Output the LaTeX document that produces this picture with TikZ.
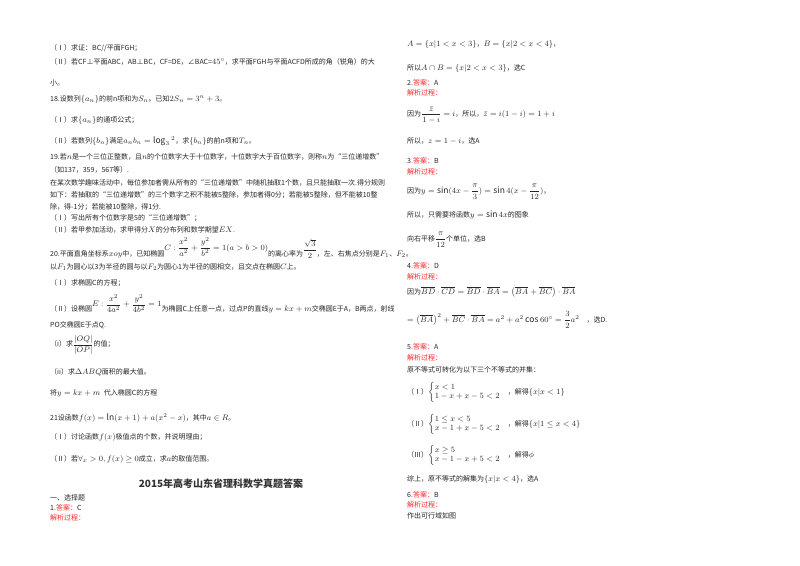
\documentclass[tikz,border=0pt]{standalone}
\usepackage{amsmath,amssymb}
\usepackage{fontspec}
\setmainfont{Noto Sans CJK SC}
\DeclareMathSizes{7}{8.5}{6.5}{5.5}
\tikzset{t/.style={anchor=west,inner sep=0pt,font=\fontsize{7}{8}\selectfont,text=black!85},
 red/.style={t,text=red!85}}
\begin{document}
\begin{tikzpicture}[x=1pt,y=-1pt]
\useasboundingbox (0,0) rectangle (800,565);
% left column
\node[t] (l1) at (50,48) {（Ⅰ）求证：BC//平面FGH；};
\node[t] (l2) at (50,62) {（Ⅱ）若CF⊥平面ABC，AB⊥BC，CF=DE，∠BAC=$45^\circ$，求平面FGH与平面ACFD所成的角（锐角）的大};
\node[t] (l3) at (50,83) {小。};
\node[t] (l4) at (50,99) {18.设数列$\{a_n\}$的前n项和为$S_n$。已知$2S_n=3^n+3$。};
\node[t] (l5) at (50,120) {（Ⅰ）求$\{a_n\}$的通项公式；};
\node[t] (l6) at (50,141) {（Ⅱ）若数列$\{b_n\}$满足$a_nb_n=\log_3{}^{2}$，求$\{b_n\}$的前n项和$T_n$。};
\node[t] (l7) at (50,157) {19.若$n$是一个三位正整数，且$n$的个位数字大于十位数字，十位数字大于百位数字，则称$n$为“三位递增数”};
\node[t] (l8) at (50,170) {（如137，359，567等）.};
\node[t] (l9) at (50,183) {在某次数学趣味活动中，每位参加者需从所有的“三位递增数”中随机抽取1个数，且只能抽取一次.得分规则};
\node[t] (l10) at (50,195) {如下：若抽取的“三位递增数”的三个数字之积不能被5整除，参加者得0分；若能被5整除，但不能被10整};
\node[t] (l11) at (50,207) {除，得-1分；若能被10整除，得1分.};
\node[t] (l12) at (50,218) {（Ⅰ）写出所有个位数字是5的“三位递增数”；};
\node[t] (l13) at (50,230) {（Ⅱ）若甲参加活动，求甲得分$X$的分布列和数学期望$EX$.};
\node[t] (l14) at (50,248) {20.平面直角坐标系$xoy$中，已知椭圆\raisebox{6pt}{$C:\dfrac{x^2}{a^2}+\dfrac{y^2}{b^2}=1(a>b>0)$}的离心率为\raisebox{4pt}{$\dfrac{\sqrt3}{2}$}，左、右焦点分别是$F_1$、$F_2$。};
\node[t] (l15) at (50,267) {以$F_1$为圆心以3为半径的圆与以$F_2$为圆心1为半径的圆相交，且交点在椭圆$C$上。};
\node[t] (l16) at (50,283) {（Ⅰ）求椭圆C的方程；};
\node[t] (l17) at (50,304) {（Ⅱ）设椭圆\raisebox{5pt}{$E:\dfrac{x^2}{4a^2}+\dfrac{y^2}{4b^2}=1$}为椭圆C上任意一点，过点P的直线$y=kx+m$交椭圆E于A，B两点，射线};
\node[t] (l18) at (50,325) {PO交椭圆E于点Q.};
\node[t] (l19) at (50,345) {（i）求$\dfrac{|OQ|}{|OP|}$的值；};
\node[t] (l20) at (50,372) {（ii）求$\Delta ABQ$面积的最大值。};
\node[t] (l21) at (50,393) {将$y=kx+m$\; 代入椭圆C的方程};
\node[t] (l22) at (50,418) {21设函数$f(x)=\ln(x+1)+a(x^2-x)$，其中$a\in R$。};
\node[t] (l23) at (50,437) {（Ⅰ）讨论函数$f(x)$极值点的个数，并说明理由；};
\node[t] (l24) at (50,459) {（Ⅱ）若$\forall_x>0,f(x)\ge0$成立，求$a$的取值范围。};
\node[anchor=center,inner sep=0pt,font=\fontsize{10}{12}\selectfont\bfseries,text=black!80] (title) at (221,484) {2015年高考山东省理科数学真题答案};
\node[t] (l25) at (50,498) {一、选择题};
\node[t] (l26) at (50,508) {1.\textcolor{red!85}{答案：}C};
\node[red] (l27) at (50,518) {解析过程：};
% right column
\node[t] (r1) at (407,44) {$A=\{x|1<x<3\}$，$B=\{x|2<x<4\}$，};
\node[t] (r2) at (407,68) {所以$A\cap B=\{x|2<x<3\}$，选C};
\node[t] (r3) at (407,83) {2.\textcolor{red!85}{答案：}A};
\node[red] (r4) at (407,93) {解析过程：};
\node[t] (r5) at (407,115) {因为$\dfrac{\bar z}{1-i}=i$，所以，$\bar z=i(1-i)=1+i$};
\node[t] (r6) at (407,141) {所以，$z=1-i$，选A};
\node[t] (r7) at (407,161) {3.\textcolor{red!85}{答案：}B};
\node[red] (r8) at (407,172) {解析过程：};
\node[t] (r9) at (407,192) {因为$y=\sin(4x-\dfrac{\pi}{3})=\sin4(x-\dfrac{\pi}{12})$，};
\node[t] (r10) at (407,215) {所以，只需要将函数$y=\sin4x$的图象};
\node[t] (r11) at (407,240) {向右平移$\dfrac{\pi}{12}$个单位，选B};
\node[t] (r12) at (407,266) {4.\textcolor{red!85}{答案：}D};
\node[red] (r13) at (407,277) {解析过程：};
\node[t] (r14) at (407,292) {因为$\overline{BD}\cdot\overline{CD}=\overline{BD}\cdot\overline{BA}=\left(\overline{BA}+\overline{BC}\right)\cdot\overline{BA}$};
\node[t] (r15) at (407,320) {$=\left(\overline{BA}\right)^2+\overline{BC}\cdot\overline{BA}=a^2+a^2\cos60^\circ=\dfrac32a^2$\quad，选D.};
\node[t] (r16) at (407,347) {5.\textcolor{red!85}{答案：}A};
\node[red] (r17) at (407,358) {解析过程：};
\node[t] (r18) at (407,370) {原不等式可转化为以下三个不等式的并集：};
\node[t] (r19) at (407,392) {（Ⅰ）$\begin{cases}x<1\\1-x+x-5<2\end{cases}$，解得$\{x|x<1\}$};
\node[t] (r20) at (407,424) {（Ⅱ）$\begin{cases}1\le x<5\\x-1+x-5<2\end{cases}$，解得$\{x|1\le x<4\}$};
\node[t] (r21) at (407,455) {（Ⅲ）$\begin{cases}x\ge5\\x-1-x+5<2\end{cases}$，解得$\phi$};
\node[t] (r22) at (407,479) {综上，原不等式的解集为$\{x|x<4\}$，选A};
\node[t] (r23) at (407,495) {6.\textcolor{red!85}{答案：}B};
\node[red] (r24) at (407,505) {解析过程：};
\node[t] (r25) at (407,516) {作出可行域如图};
\end{tikzpicture}
\end{document}
